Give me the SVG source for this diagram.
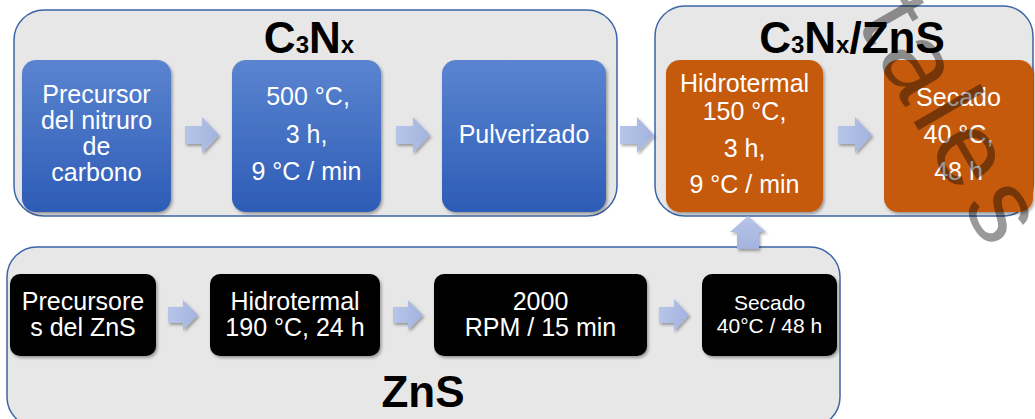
<svg xmlns="http://www.w3.org/2000/svg" width="1035" height="419" viewBox="0 0 1035 419">
<defs>
<linearGradient id="blue" x1="0" y1="0" x2="0" y2="1">
<stop offset="0" stop-color="#5b84d0"/>
<stop offset="1" stop-color="#2d5cb6"/>
</linearGradient>
<linearGradient id="arr" x1="0" y1="0" x2="1" y2="0">
<stop offset="0" stop-color="#b7c5e8"/>
<stop offset="1" stop-color="#a3b3de"/>
</linearGradient>
<linearGradient id="arrv" x1="0" y1="0" x2="0" y2="1">
<stop offset="0" stop-color="#b7c5e8"/>
<stop offset="1" stop-color="#a3b3de"/>
</linearGradient>
<filter id="sh" x="-10%" y="-10%" width="130%" height="130%">
<feDropShadow dx="1.5" dy="2" stdDeviation="1.8" flood-color="#000" flood-opacity="0.35"/>
</filter>
</defs>
<style>
.cont{fill:#e7e7e7;stroke:#3d65a8;stroke-width:1.5}
.bb{fill:url(#blue);filter:url(#sh)}
.ob{fill:#c55a11;filter:url(#sh)}
.kb{fill:#000;filter:url(#sh)}
.t{font-family:"Liberation Sans",Arial,sans-serif;font-size:25px;fill:#fff;text-anchor:middle}
.ts{font-size:21px}
.title{font-family:"Liberation Sans",Arial,sans-serif;font-weight:bold;font-size:44px;fill:#000;text-anchor:middle}
.sub{font-size:24px}
.a{fill:url(#arr);filter:url(#sh)}
.av{fill:url(#arrv);filter:url(#sh)}
.wm{font-family:"Liberation Sans",Arial,sans-serif;font-size:106px;fill:#000;fill-opacity:0.4;letter-spacing:10px}
</style>

<g id="group-c3nx">
<rect class="cont" x="14" y="10" width="603" height="206" rx="30"/>
<text class="title" x="309" y="53">C<tspan class="sub">3</tspan>N<tspan class="sub">x</tspan></text>
</g>
<g id="group-c3nx-zns">
<rect class="cont" x="655" y="6" width="378" height="210" rx="30"/>
<text class="title" x="852" y="53">C<tspan class="sub">3</tspan>N<tspan class="sub">x</tspan>/ZnS</text>
</g>
<g id="group-zns">
<rect class="cont" x="7" y="247" width="833" height="180" rx="30"/>
<text class="title" x="423" y="407">ZnS</text>
</g>

<g id="n1">
<rect class="bb" x="22" y="60" width="149" height="152" rx="14"/>
<text class="t" x="96.5" y="103">Precursor</text>
<text class="t" x="96.5" y="129">del nitruro</text>
<text class="t" x="96.5" y="155">de</text>
<text class="t" x="96.5" y="181">carbono</text>
</g>
<g id="n2">
<rect class="bb" x="232" y="60" width="149" height="152" rx="14"/>
<text class="t" x="308" y="105">500 °C,</text>
<text class="t" x="306.5" y="143">3 h,</text>
<text class="t" x="306.5" y="180">9 °C / min</text>
</g>
<g id="n3">
<rect class="bb" x="442" y="60" width="164" height="152" rx="14"/>
<text class="t" x="524" y="143">Pulverizado</text>
</g>
<g id="n4">
<rect class="ob" x="666" y="60" width="157" height="152" rx="14"/>
<text class="t" x="744.5" y="92">Hidrotermal</text>
<text class="t" x="744.5" y="120">150 °C,</text>
<text class="t" x="744.5" y="157">3 h,</text>
<text class="t" x="744.5" y="193">9 °C / min</text>
</g>
<g id="n5">
<rect class="ob" x="884" y="60" width="149" height="152" rx="14"/>
<text class="t" x="958.5" y="106">Secado</text>
<text class="t" x="958.5" y="143">40 °C,</text>
<text class="t" x="958.5" y="180">48 h</text>
</g>

<g id="z1">
<rect class="kb" x="10" y="274" width="146" height="82" rx="10"/>
<text class="t" x="83" y="310">Precursore</text>
<text class="t" x="83" y="336">s del ZnS</text>
</g>
<g id="z2">
<rect class="kb" x="210" y="274" width="170" height="82" rx="10"/>
<text class="t" x="295" y="310">Hidrotermal</text>
<text class="t" x="295" y="336">190 °C, 24 h</text>
</g>
<g id="z3">
<rect class="kb" x="434" y="274" width="213" height="82" rx="10"/>
<text class="t" x="540.5" y="310">2000</text>
<text class="t" x="540.5" y="336">RPM / 15 min</text>
</g>
<g id="z4">
<rect class="kb" x="702" y="274" width="135" height="82" rx="10"/>
<text class="t ts" x="769.5" y="310">Secado</text>
<text class="t ts" x="769.5" y="333">40°C / 48 h</text>
</g>

<g id="connectors">
<path class="a" d="M185,126 H202 V117 L219,135 L202,153 V144 H185 Z"/>
<path class="a" d="M396,126 H413 V117 L430,135 L413,153 V144 H396 Z"/>
<path class="a" d="M620,126 H637 V117 L654,135 L637,153 V144 H620 Z"/>
<path class="a" d="M838,126 H855 V117 L872,135 L855,153 V144 H838 Z"/>
<path class="a" d="M168,307 H183 V300 L198,315 L183,330 V323 H168 Z"/>
<path class="a" d="M393,307 H408 V300 L423,315 L408,330 V323 H393 Z"/>
<path class="a" d="M659,307 H674 V299 L689,315 L674,331 V323 H659 Z"/>
<path class="av" d="M737,249 V232 H730 L748,216 L766,232 H759 V249 Z"/>
</g>

<g id="watermark">
<text class="wm" transform="translate(856,22) rotate(60)">tales</text>
</g>
</svg>
